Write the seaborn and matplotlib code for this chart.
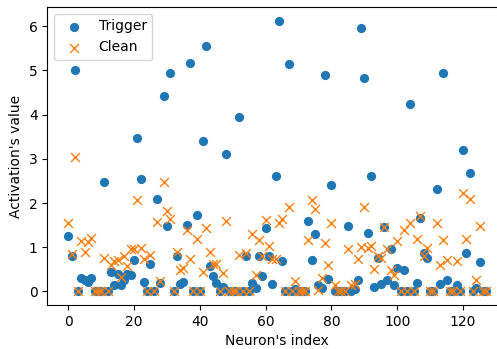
import matplotlib
matplotlib.use("Agg")
import matplotlib.pyplot as plt
import numpy as np
import pandas as pd
import seaborn as sns

# activations per neuron
trigger = [
    1.25, 0.80, 5.02, 0.00, 0.30, 0.25, 0.22, 0.30, 0.00, 0.00,
    0.00, 2.48, 0.00, 0.45, 0.14, 0.40, 0.15, 0.25, 0.40, 0.38,
    0.71, 3.48, 2.55, 0.21, 0.00, 0.63, 0.00, 2.10, 0.19, 4.42,
    1.48, 4.95, 0.00, 0.80, 0.17, 0.22, 1.51, 5.17, 0.00, 1.72,
    0.00, 3.40, 5.55, 0.57, 0.36, 0.20, 0.00, 0.11, 3.12, 0.00,
    0.00, 0.00, 3.95, 0.00, 0.81, 0.00, 0.20, 0.07, 0.81, 0.36,
    1.43, 0.80, 0.18, 2.62, 6.13, 0.70, 0.00, 5.14, 0.00, 0.05,
    0.00, 0.00, 0.00, 1.59, 0.72, 1.31, 0.14, 0.08, 4.90, 0.29,
    2.42, 0.00, 0.00, 0.00, 0.00, 1.49, 0.00, 0.05, 0.27, 5.96,
    4.83, 1.33, 2.61, 0.10, 0.76, 0.16, 1.46, 0.26, 0.97, 0.14,
    0.53, 0.00, 0.48, 0.00, 4.25, 0.00, 0.19, 1.67, 0.86, 0.75,
    0.00, 0.00, 2.32, 0.18, 4.95, 0.27, 0.00, 0.00, 0.14, 0.00,
    3.21, 0.87, 2.67, 0.00, 0.08, 0.66, 0.00, 0.00,
]
clean = [
    1.54, 0.84, 3.05, 0.00, 1.14, 0.89, 1.12, 1.21, 0.00, 0.00,
    0.00, 0.75, 0.00, 0.61, 0.69, 0.72, 0.32, 0.80, 0.57, 0.95,
    0.97, 2.07, 0.99, 0.74, 0.00, 0.83, 0.00, 1.57, 0.23, 2.47,
    1.83, 1.63, 0.00, 0.90, 0.48, 0.54, 1.40, 0.74, 0.00, 1.18,
    0.00, 0.44, 1.43, 0.90, 0.62, 0.62, 0.00, 0.42, 1.59, 0.00,
    0.00, 0.00, 0.83, 0.00, 0.86, 0.00, 1.30, 0.38, 1.16, 0.81,
    1.61, 1.04, 0.73, 0.73, 1.54, 1.65, 0.00, 1.92, 0.00, 0.24,
    0.00, 0.00, 0.00, 1.17, 2.06, 1.86, 0.04, 0.30, 1.10, 0.60,
    1.54, 0.15, 0.00, 0.00, 0.00, 0.97, 0.15, 0.18, 0.74, 1.01,
    1.92, 0.99, 1.04, 0.50, 0.80, 0.75, 1.46, 0.95, 0.48, 0.38,
    1.14, 0.00, 1.38, 0.00, 1.54, 0.00, 1.18, 1.71, 0.80, 0.99,
    0.00, 0.00, 1.54, 0.61, 1.16, 0.72, 0.00, 0.00, 0.68, 0.00,
    2.23, 1.18, 2.10, 0.00, 0.26, 1.48, 0.00, 0.00,
]
neurons = np.arange(len(trigger))

df = pd.DataFrame({"neuron": neurons, "Trigger": trigger, "Clean": clean})

fig = plt.figure(figsize=(4.97, 3.49), dpi=100)
ax = fig.add_axes([0.0952, 0.126, 0.925, 0.854])

sns.scatterplot(data=df, x="neuron", y="Trigger", ax=ax, marker="o",
                color="#1f77b4", s=44, linewidth=0, label="Trigger")
sns.scatterplot(data=df, x="neuron", y="Clean", ax=ax, marker="x",
                color="#ff7f0e", s=40, linewidth=1.0, label="Clean")

ax.set_xlabel("Neuron's index")
ax.set_ylabel("Activation's value")
ax.set_xticks([0, 20, 40, 60, 80, 100, 120])
ax.set_yticks([0, 1, 2, 3, 4, 5, 6])
ax.margins(x=0.05, y=0.05)
ax.legend(loc="upper left", fontsize=10)

fig.savefig("out.png", dpi=100)
